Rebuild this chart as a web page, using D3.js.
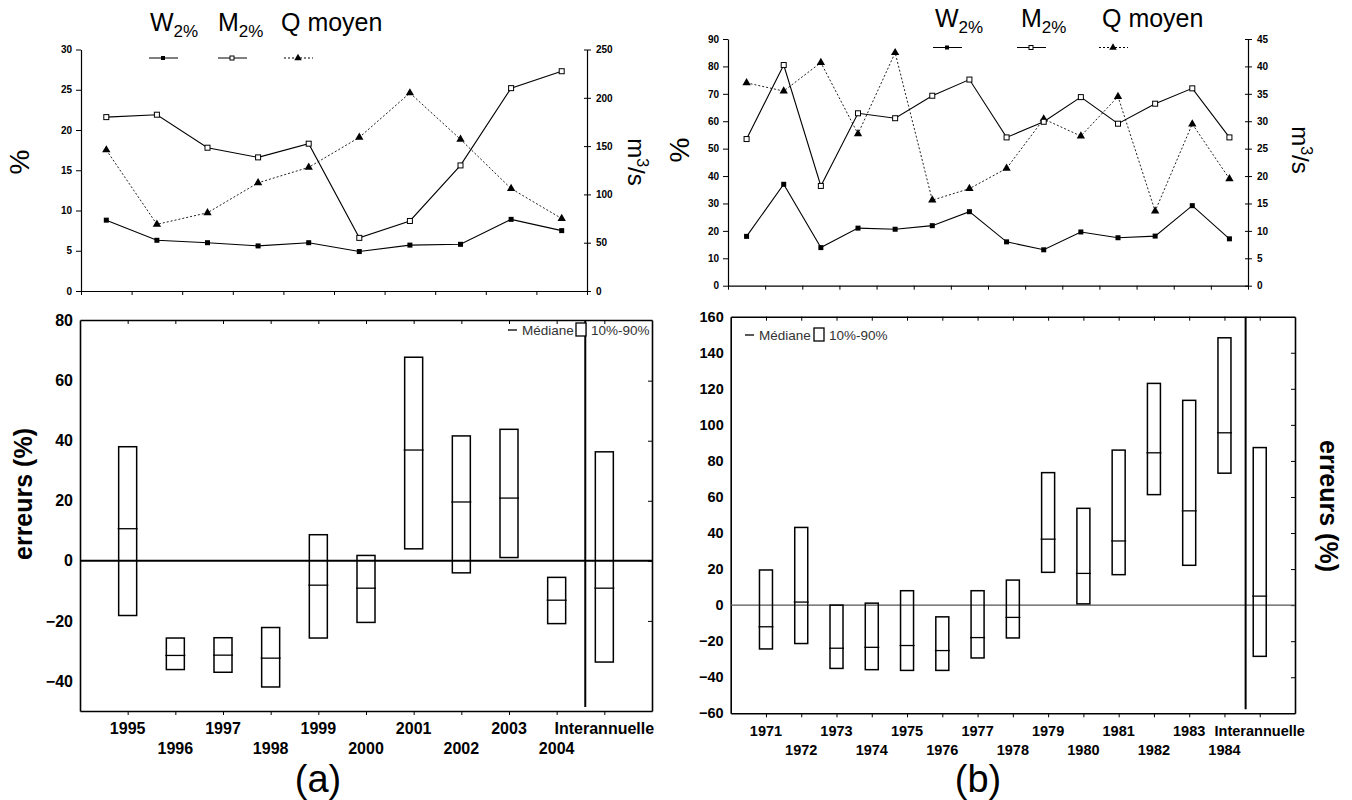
<!DOCTYPE html>
<html><head><meta charset="utf-8">
<script src="https://cdn.jsdelivr.net/npm/d3@7"></script>
<style>
body{margin:0;background:#fff;}
svg{display:block;font-family:Arial,"Liberation Sans",sans-serif;}
.tick line{stroke:#000;}
.domain{stroke:#000;}
</style></head><body>
<svg id="c" width="1352" height="800"></svg>
<script>
// ---------- data (a) ----------
const yearsA = ['1995','1996','1997','1998','1999','2000','2001','2002','2003','2004'];
const wA = [8.8, 6.3, 6.0, 5.6, 6.0, 4.9, 5.7, 5.8, 8.9, 7.5];
const mA = [21.6, 21.9, 17.8, 16.6, 18.3, 6.6, 8.7, 15.6, 25.2, 27.3];
const qA = [146, 69, 81, 112, 128, 159, 205, 157, 106, 75];
const catsA = [...yearsA, 'Interannuelle'];
const p10A = [-18.2, -36.2, -37.1, -42, -25.7, -20.5, 4, -4, 1.1, -20.9, -33.7];
const p90A = [38, -25.7, -25.6, -22.2, 8.7, 1.8, 67.8, 41.6, 43.8, -5.5, 36.3];
const medA = [10.7, -31.5, -31.4, -32.4, -8.1, -9.1, 36.9, 19.6, 20.9, -13.1, -9.1];
const ticksTopLA = [0,5,10,15,20,25,30];
const ticksTopRA = [0,50,100,150,200,250];
const ticksBotA = [-40,-20,0,20,40,60,80];

// ---------- data (b) ----------
const yearsB = ['1971','1972','1973','1974','1975','1976','1977','1978','1979','1980','1981','1982','1983','1984'];
const wB = [18.0, 37.0, 13.9, 21.0, 20.6, 21.9, 27.0, 16.0, 13.1, 19.6, 17.5, 18.1, 29.2, 17.1];
const mB = [53.5, 80.5, 36.4, 62.9, 61.1, 69.3, 75.2, 54.1, 59.8, 68.8, 59.1, 66.4, 72.0, 54.1];
const qB = [37.0, 35.5, 40.7, 27.7, 42.5, 15.6, 17.7, 21.4, 30.4, 27.3, 34.5, 13.6, 29.5, 19.5];
const catsB = [...yearsB, 'Interannuelle'];
const p10B = [-24.3, -21.3, -35.1, -35.8, -36.2, -36.2, -29.3, -18.2, 18.2, 0.7, 16.9, 61.3, 22.1, 73.2, -28.4];
const p90B = [19.5, 43.1, 0, 1.1, 8, -6.5, 8, 13.9, 73.5, 53.7, 86, 123, 113.6, 148.3, 87.4];
const medB = [-12, 1.7, -23.9, -23.4, -22.4, -25.2, -18, -6.8, 36.6, 17.6, 35.6, 84.5, 52.3, 95.6, 5];
const ticksTopLB = [0,10,20,30,40,50,60,70,80,90];
const ticksTopRB = [0,5,10,15,20,25,30,35,40,45];
const ticksBotB = [-60,-40,-20,0,20,40,60,80,100,120,140,160];

const svg = d3.select('#c');

function topChart(cfg){
  const g = svg.append('g');
  const n = cfg.years.length;
  const xb = d3.scaleBand().domain(cfg.years).range([cfg.x0, cfg.x1]);
  const xi = d3.scaleLinear().domain([0, n]).range([cfg.x0, cfg.x1]);
  const yL = d3.scaleLinear().domain(cfg.domL).range([cfg.yb, cfg.yt]);
  const yR = d3.scaleLinear().domain(cfg.domR).range([cfg.yb, cfg.yt]);
  const cx = d => xb(d) + xb.bandwidth()/2;

  // axes
  const aL = g.append('g').attr('transform', `translate(${cfg.x0},0)`)
    .call(d3.axisLeft(yL).tickValues(cfg.tL).tickSize(5).tickPadding(4).tickSizeOuter(0));
  const aR = g.append('g').attr('transform', `translate(${cfg.x1},0)`)
    .call(d3.axisRight(yR).tickValues(cfg.tR).tickSize(4).tickPadding(5).tickSizeOuter(0));
  aR.selectAll('.tick line').attr('x1', -3);
  const aB = g.append('g').attr('transform', `translate(0,${cfg.yb})`)
    .call(d3.axisBottom(xi).tickValues(d3.range(n+1)).tickSize(4).tickFormat('').tickSizeOuter(0));
  [aL, aR].forEach(a => a.selectAll('text').attr('font-size', 10).attr('font-weight', 'bold').attr('fill', '#000').attr('font-family','Arial,"Liberation Sans",sans-serif'));
  [aL, aR, aB].forEach(a => a.select('.domain').attr('stroke-width', 1.2));

  // lines
  const lineL = d3.line().x((d,i) => cx(cfg.years[i])).y(d => yL(d));
  const lineR = d3.line().x((d,i) => cx(cfg.years[i])).y(d => yR(d));
  g.append('path').attr('d', lineR(cfg.q)).attr('fill','none').attr('stroke','#222').attr('stroke-width',1).attr('stroke-dasharray','2,2');
  g.append('path').attr('d', lineL(cfg.m)).attr('fill','none').attr('stroke','#000').attr('stroke-width',1.1);
  g.append('path').attr('d', lineL(cfg.w)).attr('fill','none').attr('stroke','#000').attr('stroke-width',1.1);
  const tri = d3.symbol().type(d3.symbolTriangle).size(30);
  g.selectAll(null).data(cfg.q).enter().append('path').attr('d', tri)
    .attr('transform', (d,i) => `translate(${cx(cfg.years[i])},${yR(d)})`).attr('fill','#000');
  g.selectAll(null).data(cfg.m).enter().append('rect')
    .attr('x', (d,i) => cx(cfg.years[i]) - 2.5).attr('y', d => yL(d) - 2.5)
    .attr('width', 5).attr('height', 5).attr('fill','#fff').attr('stroke','#000').attr('stroke-width',1);
  g.selectAll(null).data(cfg.w).enter().append('rect')
    .attr('x', (d,i) => cx(cfg.years[i]) - 2.5).attr('y', d => yL(d) - 2.5)
    .attr('width', 5).attr('height', 5).attr('fill','#000');

  // legend
  const L = cfg.leg;
  const lab = (x, main, sub) => {
    const t = g.append('text').attr('x', x).attr('y', L.ty).attr('font-size', 25).attr('fill','#000');
    t.append('tspan').text(main);
    if (sub) t.append('tspan').attr('font-size', 17).attr('dy', 6).text(sub);
  };
  lab(L.wx, 'W', '2%'); lab(L.mx, 'M', '2%'); lab(L.qx, 'Q moyen');
  const ly = L.ly;
  g.append('line').attr('x1', L.wl).attr('x2', L.wl+29).attr('y1', ly).attr('y2', ly).attr('stroke','#000');
  g.append('rect').attr('x', L.wl+12).attr('y', ly-2).attr('width',4).attr('height',4).attr('fill','#000');
  g.append('line').attr('x1', L.ml).attr('x2', L.ml+29).attr('y1', ly).attr('y2', ly).attr('stroke','#000');
  g.append('rect').attr('x', L.ml+12).attr('y', ly-2).attr('width',4).attr('height',4).attr('fill','#fff').attr('stroke','#000');
  g.append('line').attr('x1', L.ql).attr('x2', L.ql+29).attr('y1', ly).attr('y2', ly).attr('stroke','#000').attr('stroke-dasharray','2,2');
  g.append('path').attr('d', d3.symbol().type(d3.symbolTriangle).size(24)).attr('transform',`translate(${L.ql+14},${ly})`).attr('fill','#000');

  // titles
  g.append('text').attr('transform', `translate(${cfg.pctX},${cfg.titleY}) rotate(-90)`)
    .attr('text-anchor','middle').attr('font-size', 28).text('%');
  const m3 = g.append('text').attr('transform', `translate(${cfg.m3X},${cfg.titleY}) rotate(90)`)
    .attr('text-anchor','middle').attr('font-size', 24);
  m3.append('tspan').text('m');
  m3.append('tspan').attr('font-size', 16).attr('dy', -9).text('3');
  m3.append('tspan').attr('dy', 9).text('/s');
}

function botChart(cfg){
  const g = svg.append('g');
  const x = d3.scalePoint().domain(cfg.cats).range([cfg.x0, cfg.x1]).padding(1);
  const y = d3.scaleLinear().domain(cfg.dom).range([cfg.yb, cfg.yt]);
  const step = x.step();

  // axes
  const aB = g.append('g').attr('transform', `translate(0,${cfg.yb})`)
    .call(d3.axisBottom(x).tickSize(4).tickFormat('').tickSizeOuter(0));
  const aT = g.append('g').attr('transform', `translate(0,${cfg.yt})`)
    .call(d3.axisTop(x).tickSize(-4).tickFormat('').tickSizeOuter(0));
  const aR = g.append('g').attr('transform', `translate(${cfg.x1},0)`)
    .call(d3.axisRight(y).tickValues(cfg.ticks.slice(1,-1)).tickSize(-4).tickFormat('').tickSizeOuter(0));
  const aL = g.append('g').attr('transform', `translate(${cfg.x0},0)`)
    .call(d3.axisLeft(y).tickValues(cfg.ticks).tickSize(0).tickPadding(7).tickSizeOuter(0));
  aL.selectAll('text').attr('font-size', cfg.fs).attr('font-weight','bold').attr('fill','#000').attr('font-family','Arial,"Liberation Sans",sans-serif');
  [aB, aT, aR, aL].forEach(a => a.select('.domain').attr('stroke-width', 1.6));

  // zero line
  g.append('line').attr('x1', cfg.x0).attr('x2', cfg.x1).attr('y1', y(0)).attr('y2', y(0))
    .attr('stroke', cfg.zeroColor).attr('stroke-width', cfg.zeroW);

  // boxes
  const bw = cfg.bw;
  cfg.cats.forEach((c, i) => {
    const cx = x(c);
    g.append('rect').attr('x', cx - bw/2).attr('y', y(cfg.p90[i])).attr('width', bw)
      .attr('height', y(cfg.p10[i]) - y(cfg.p90[i])).attr('fill','none').attr('stroke','#000').attr('stroke-width', 1.5);
    g.append('line').attr('x1', cx - bw/2 - 1).attr('x2', cx + bw/2 + 1).attr('y1', y(cfg.med[i])).attr('y2', y(cfg.med[i]))
      .attr('stroke','#000').attr('stroke-width', 1.3);
  });

  // separator
  const sx = x(cfg.cats[cfg.cats.length-2]) + step*0.6;
  g.append('line').attr('x1', sx).attr('x2', sx).attr('y1', cfg.yt).attr('y2', cfg.yb - 4)
    .attr('stroke','#000').attr('stroke-width', 2);

  // x labels (alternating rows)
  cfg.cats.forEach((c, i) => {
    g.append('text').attr('x', x(c)).attr('y', i % 2 === 0 ? cfg.row1 : cfg.row2)
      .attr('text-anchor','middle').attr('font-size', cfg.fx).attr('font-weight','bold').text(c);
  });

  // legend
  const L = cfg.leg;
  g.append('line').attr('x1', L.x).attr('x2', L.x+9).attr('y1', L.y).attr('y2', L.y).attr('stroke','#000').attr('stroke-width',1.3);
  g.append('text').attr('x', L.x+14).attr('y', L.y+5).attr('font-size', 13.5).attr('fill','#333').text('Médiane');
  g.append('rect').attr('x', L.bx).attr('y', L.y-7).attr('width', 10).attr('height', 13)
    .attr('fill','#fff').attr('stroke','#000').attr('stroke-width',1.3);
  g.append('text').attr('x', L.bx+15).attr('y', L.y+5).attr('font-size', 13.5).attr('fill','#333').text('10%-90%');

  // y title
  g.append('text').attr('transform', `translate(${cfg.tx},${cfg.ty}) rotate(${cfg.rot})`)
    .attr('text-anchor','middle').attr('font-size', 25).attr('font-weight','bold').text('erreurs (%)');

  // panel label
  g.append('text').attr('x', cfg.px).attr('y', 792).attr('text-anchor','middle').attr('font-size', 38).text(cfg.plabel);
}

topChart({years: yearsA, w: wA, m: mA, q: qA, x0: 81, x1: 587, yb: 291, yt: 49.5,
  domL: [0,30], domR: [0,250], tL: ticksTopLA, tR: ticksTopRA,
  leg: {wx: 150, mx: 218, qx: 281, ty: 31, ly: 58, wl: 149, ml: 218, ql: 284},
  pctX: 29, m3X: 628, titleY: 162});

topChart({years: yearsB, w: wB, m: mB, q: qB, x0: 728, x1: 1248, yb: 285.7, yt: 39,
  domL: [0,90], domR: [0,45], tL: ticksTopLB, tR: ticksTopRB,
  leg: {wx: 935, mx: 1021, qx: 1102, ty: 27, ly: 47.5, wl: 933, ml: 1017, ql: 1099},
  pctX: 689, m3X: 1292, titleY: 150});

botChart({cats: catsA, p10: p10A, p90: p90A, med: medA, x0: 80, x1: 652, yb: 711, yt: 320,
  dom: [-50, 80.2], ticks: ticksBotA, fs: 16, fx: 16, bw: 18, zeroColor: '#000', zeroW: 2,
  row1: 734, row2: 754, leg: {x: 508, y: 330, bx: 576}, tx: 32, ty: 494, rot: -90,
  px: 318, plabel: '(a)'});

botChart({cats: catsB, p10: p10B, p90: p90B, med: medB, x0: 730.7, x1: 1295, yb: 713.3, yt: 316.7,
  dom: [-60, 160], ticks: ticksBotB, fs: 14.5, fx: 14.5, bw: 13, zeroColor: '#555', zeroW: 1.2,
  row1: 736, row2: 755, leg: {x: 745, y: 335, bx: 814}, tx: 1320, ty: 506, rot: 90,
  px: 978, plabel: '(b)'});
</script>
</body></html>
